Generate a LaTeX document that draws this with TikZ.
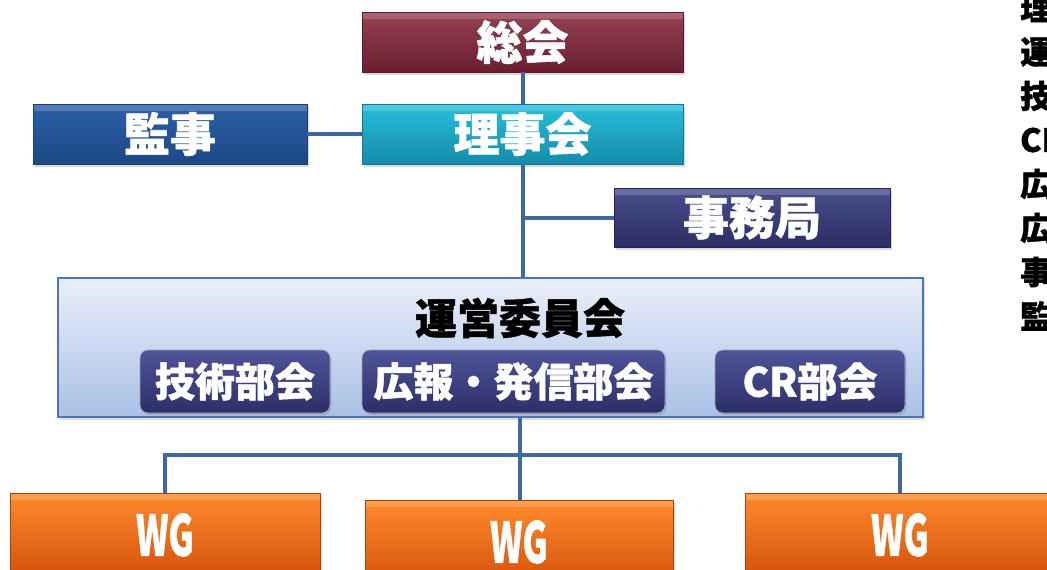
\documentclass[tikz,border=0pt]{standalone}
\usepackage{fontspec}
\newfontfamily\jpfont{Noto Sans CJK JP}[BoldFeatures={FakeBold=1.2}]
\usetikzlibrary{positioning,shadows}
\definecolor{linecol}{HTML}{3F67A0}
\definecolor{navyblue}{HTML}{3C3F7A}
\definecolor{navytop}{HTML}{50549A}
\definecolor{navybot}{HTML}{2C2F66}
\definecolor{wgtop}{HTML}{FF8A2E}
\definecolor{wgbot}{HTML}{D4520A}
\definecolor{soukaitop}{RGB}{150,66,82}
\definecolor{soukaibot}{RGB}{106,30,50}
\definecolor{soukaiedge}{RGB}{90,25,42}
\definecolor{rijitop}{RGB}{40,190,218}
\definecolor{rijibot}{RGB}{20,140,170}
\definecolor{rijiedge}{RGB}{18,120,150}
\definecolor{kansatop}{RGB}{44,96,168}
\definecolor{kansabot}{RGB}{28,72,132}
\definecolor{kansaedge}{RGB}{24,62,115}
\definecolor{jimutop}{RGB}{74,78,140}
\definecolor{jimubot}{RGB}{44,47,100}
\definecolor{jimuedge}{RGB}{36,38,82}
\definecolor{ueitop}{RGB}{234,239,250}
\definecolor{ueibot}{RGB}{170,192,230}
\definecolor{ueiedge}{RGB}{74,118,184}
\tikzset{
  bevel/.style={path picture={\fill[white,opacity=0.18] (path picture bounding box.north west)
        rectangle ([yshift=-7pt]path picture bounding box.north east);}},
  orgbox/.style={draw=#1edge,top color=#1top,bottom color=#1bot,line width=0.8pt,text=white,bevel,
        font=\jpfont\bfseries\fontsize{46}{46}\selectfont,
        drop shadow={shadow xshift=2pt,shadow yshift=-3pt,opacity=0.3}},
  subbox/.style={draw=white!50!navyblue,line width=0.8pt,rounded corners=8pt,
        top color=navytop,bottom color=navybot,text=white,minimum height=63,
        font=\jpfont\bfseries\fontsize{40}{40}\selectfont,
        drop shadow={shadow xshift=1.5pt,shadow yshift=-2pt,opacity=0.3}},
  wgbox/.style={draw=wgbot!80!black,line width=0.8pt,minimum width=310,minimum height=84,
        top color=wgtop,bottom color=wgbot,text=white,bevel,
        font=\jpfont\bfseries\fontsize{56}{56}\selectfont,
        drop shadow={shadow xshift=2pt,shadow yshift=-3pt,opacity=0.3}},
  conn/.style={draw=linecol,line width=4pt},
  sidetxt/.style={font=\jpfont\bfseries\fontsize{32}{32}\selectfont,anchor=west,inner sep=0pt}
}
\begin{document}
\begin{tikzpicture}[x=1pt,y=-1pt]
\useasboundingbox (0,0) rectangle (1047,570);
\clip (0,0) rectangle (1047,570);
% boxes
\node[orgbox=soukai,minimum width=321,minimum height=60] (soukai) at (522.5,42) {総会};
\node[orgbox=riji,minimum width=321,minimum height=60] (riji) at (522.5,134) {理事会};
\node[orgbox=kansa,minimum width=274,minimum height=60] (kansa) at (170,134) {監事};
\node[orgbox=jimu,minimum width=276,minimum height=59] (jimu) at (752,217.5) {事務局};
\node[draw=ueiedge,line width=1.2pt,minimum width=865,minimum height=139,
      top color=ueitop,bottom color=ueibot,
      drop shadow={shadow xshift=2pt,shadow yshift=-3pt,opacity=0.25}] (unei) at (490.5,347.5) {};
\node[font=\jpfont\bfseries\fontsize{42}{42}\selectfont] (uneititle) at (520,318) {運営委員会};
\node[subbox,minimum width=190] (gijutsu) at (235,381.5) {技術部会};
\node[subbox,minimum width=303] (kouhou) at (513.5,381.5) {広報・発信部会};
\node[subbox,minimum width=190] (cr) at (810,381.5) {CR部会};
\node[wgbox] (wg1) at (165,535) {\scalebox{0.62}[1]{WG}};
\node[wgbox,minimum width=308] (wg2) at (519,542) {\scalebox{0.62}[1]{WG}};
\node[wgbox] (wg3) at (900,535) {\scalebox{0.62}[1]{WG}};
% connectors
\coordinate (jb) at (riji.south |- jimu.west);
\coordinate (hub) at (520,455);
\draw[conn] (soukai) -- (riji);
\draw[conn] (kansa) -- (riji);
\draw[conn] (riji.south) -- (riji.south |- unei.north);
\draw[conn] (jb) -- (jimu.west);
\draw[conn] (hub |- unei.south) -- (hub);
\draw[conn] (wg1.north) |- (hub) -| (wg3.north);
\draw[conn] (hub) -- (hub |- wg2.north);
% right column (cut off)
\foreach \c [count=\i from 0] in {理,運,技,CR,広,広,事,監}
  \node[sidetxt] (side\i) at (1020,8+44*\i) {\c};
\end{tikzpicture}
\end{document}
